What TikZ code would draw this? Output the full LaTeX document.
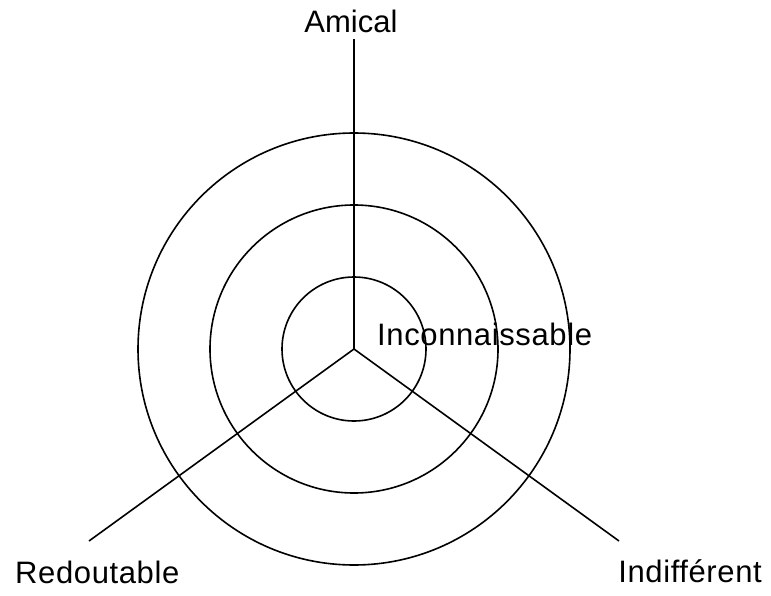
\documentclass[tikz,border=0pt]{standalone}
\usepackage{fontspec}
\setmainfont{Liberation Sans}
\begin{document}
\begin{tikzpicture}[x=1pt,y=-1pt,
  ring/.style={draw=black,line width=1.6pt},
  spoke/.style={draw=black,line width=1.6pt},
  lbl/.style={inner sep=0pt,font=\fontsize{31}{36}\selectfont},
  wide/.style={lbl,font=\fontsize{31}{36}\selectfont\addfontfeature{LetterSpace=2}}]
\useasboundingbox (0,0) rectangle (771,596);
\coordinate (c) at (354,349);
\coordinate (top) at (354,39);
\coordinate (ll) at (89,541);
\coordinate (lr) at (619,541);
\draw[ring] (c) circle[radius=72];
\draw[ring] (c) circle[radius=144];
\draw[ring] (c) circle[radius=216];
\draw[spoke] (c) -- (top);
\draw[spoke] (c) -- (ll);
\draw[spoke] (c) -- (lr);
\node[lbl,anchor=base] (amical) at (351,33) {Amical};
\node[wide,anchor=base west] (inco) at (377,345) {Inconnaissable};
\node[wide,anchor=base west] (redo) at (15,583) {Redoutable};
\node[wide,anchor=base east] (indi) at (762,582) {Indifférent};
\end{tikzpicture}
\end{document}
